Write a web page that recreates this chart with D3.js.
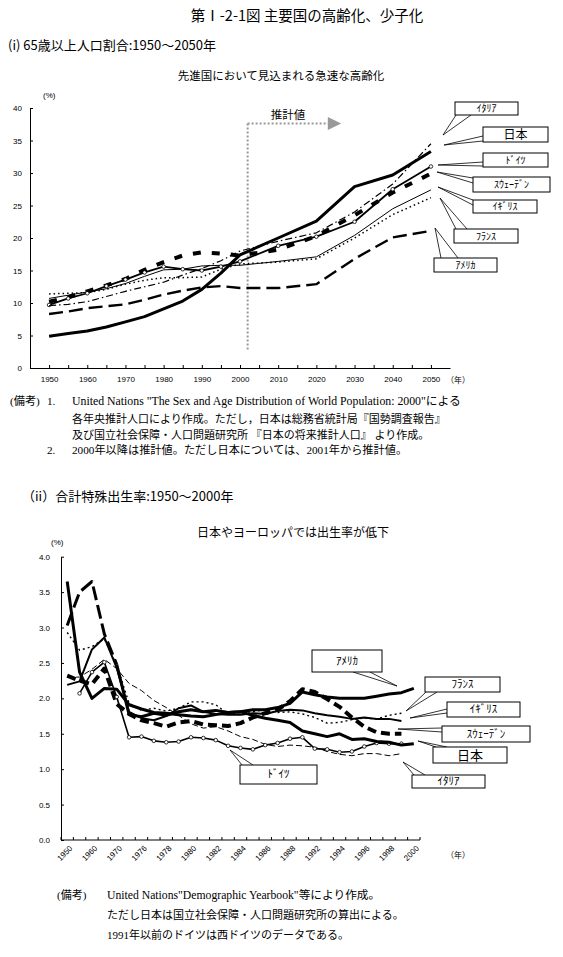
<!DOCTYPE html>
<html>
<head>
<meta charset="utf-8">
<script src="https://cdn.jsdelivr.net/npm/d3@7"></script>
<style>body{margin:0;background:#fff}</style>
</head>
<body>
<script>
/* ** DATA (i) 65歳以上人口割合 ** */
const agedYears  = [1950,1955,1960,1965,1970,1975,1980,1985,1990,1995,2000,2010,2020,2030,2040,2050];
const agedJapan  = [4.9,5.3,5.7,6.3,7.1,7.9,9.1,10.3,12.1,14.6,17.4,20.0,22.6,27.9,29.7,33.3];
const agedItaly  = [9.6,9.8,10.2,11.0,11.8,12.5,13.2,14.3,15.3,16.5,18.0,19.5,20.8,24.0,28.3,34.5];
const agedGermany= [9.7,10.7,11.5,12.6,13.6,14.7,15.6,15.2,15.0,15.6,16.4,18.8,20.2,22.5,27.5,31.0];
const agedSweden = [10.2,10.9,11.8,12.7,13.7,15.1,16.3,17.3,17.8,17.6,17.3,18.2,20.3,23.5,27.0,29.9];
const agedUK     = [10.7,11.2,11.7,12.2,13.0,14.1,15.1,15.2,15.7,15.8,15.8,16.4,17.1,20.4,24.5,27.4];
const agedFrance = [11.4,11.5,11.6,12.1,12.9,13.5,13.9,13.9,14.0,15.2,16.0,16.3,16.8,20.0,23.6,26.2];
const agedUSA    = [8.3,8.7,9.2,9.5,9.8,10.5,11.3,11.9,12.4,12.6,12.3,12.3,12.9,16.8,20.1,21.1];
const agedTicksX = [1950,1960,1970,1980,1990,2000,2010,2020,2030,2040,2050];
const agedTicksY = [0,5,10,15,20,25,30,35,40];

/* ** DATA (ii) 合計特殊出生率 ** */
const tfrYears   = [1950,1955,1960,1965,1970,1975,1976,1977,1978,1979,1980,1981,1982,1983,1984,1985,1986,1987,1988,1990,1992,1993,1994,1995,1996,1997,1998,1999,2000];
const tfrJapan   = [3.65,2.37,2.00,2.14,2.13,1.91,1.85,1.80,1.79,1.77,1.75,1.74,1.77,1.80,1.81,1.76,1.72,1.69,1.66,1.54,1.50,1.46,1.50,1.42,1.43,1.39,1.38,1.34,1.36];
const tfrUSA     = [3.03,3.50,3.65,2.91,2.48,1.77,1.74,1.79,1.76,1.81,1.84,1.81,1.83,1.80,1.81,1.84,1.84,1.87,1.93,2.09,2.05,2.02,2.00,2.00,2.00,2.03,2.06,2.08,2.14];
const tfrUK      = [2.19,2.24,2.69,2.86,2.43,1.81,1.72,1.69,1.75,1.86,1.90,1.81,1.78,1.77,1.77,1.79,1.78,1.82,1.84,1.83,1.79,1.76,1.74,1.71,1.73,1.71,1.71,1.68];
const tfrFrance  = [2.93,2.68,2.73,2.84,2.47,1.93,1.83,1.86,1.82,1.86,1.95,1.95,1.91,1.78,1.80,1.81,1.84,1.80,1.81,1.78,1.73,1.65,1.66,1.70,1.72,1.71,1.76,1.79];
const tfrGermany = [null,2.07,2.37,2.51,2.02,1.45,1.46,1.40,1.38,1.39,1.45,1.44,1.41,1.33,1.30,1.28,1.34,1.37,1.43,1.45,1.29,1.28,1.24,1.25,1.32,1.37,1.36,1.36];
const tfrItaly   = [2.30,2.30,2.41,2.55,2.42,2.21,2.11,1.97,1.87,1.76,1.64,1.58,1.60,1.54,1.46,1.42,1.35,1.32,1.34,1.33,1.31,1.25,1.21,1.19,1.22,1.22,1.19,1.22];
const tfrSweden  = [2.32,2.25,2.20,2.42,1.92,1.78,1.69,1.65,1.60,1.66,1.68,1.63,1.62,1.61,1.65,1.73,1.79,1.84,1.96,2.13,2.09,1.99,1.88,1.73,1.60,1.52,1.50,1.50];
const tfrTickLabels = [1950,1960,1970,1976,1978,1980,1982,1984,1986,1988,1992,1994,1996,1998,2000];
const tfrTicksY  = [0,0.5,1,1.5,2,2.5,3,3.5,4];

const jp = "'Noto Sans CJK JP', sans-serif";
const num = "'Liberation Sans', Arial, sans-serif";
const serif = "'Liberation Serif', 'Noto Sans CJK JP', serif";

const svg = d3.select("body").append("svg").attr("width", 563).attr("height", 957);

/* ** HEADINGS ** */
svg.append("text").text("第Ⅰ-2-1図 主要国の高齢化、少子化").attr("x", 307).attr("y", 21)
  .attr("text-anchor", "middle").attr("font-family", jp).attr("font-size", 14.5);
svg.append("text").text("(i) 65歳以上人口割合:1950～2050年").attr("x", 8).attr("y", 50)
  .attr("font-family", jp).attr("font-size", 13);
svg.append("text").text("先進国において見込まれる急速な高齢化").attr("x", 281).attr("y", 80)
  .attr("text-anchor", "middle").attr("font-family", jp).attr("font-size", 11.5);

/* ** CHART (i) ** */
const xA = d3.scaleLinear().domain([1945, 2055]).range([30, 450]);
const yA = d3.scaleLinear().domain([0, 40]).range([368, 108]);

const axA = svg.append("g").attr("transform", "translate(0,368)")
  .call(d3.axisBottom(xA).tickValues(d3.range(1950, 2051, 5)).tickSize(-3).tickSizeOuter(0).tickPadding(8)
    .tickFormat(d => agedTicksX.includes(d) ? d : ""));
const ayA = svg.append("g").attr("transform", "translate(30,0)")
  .call(d3.axisLeft(yA).tickValues(agedTicksY).tickSize(-3).tickSizeOuter(0).tickPadding(8));
[axA, ayA].forEach(g => {
  g.selectAll("text").attr("font-family", num).attr("font-size", 8).attr("fill", "#000");
  g.selectAll("line,path").attr("stroke", "#000");
});
svg.append("text").text("(%)").attr("x", 43).attr("y", 98).attr("font-family", num).attr("font-size", 8);
svg.append("text").text("（年）").attr("x", 446).attr("y", 383).attr("font-family", jp).attr("font-size", 8);

// 推計値 marker
const est = svg.append("g").attr("stroke", "#999").attr("stroke-width", 2).attr("stroke-dasharray", "2,2").attr("fill", "none");
est.append("line").attr("x1", xA(2002)).attr("x2", xA(2002)).attr("y1", yA(37.6)).attr("y2", yA(2.6));
est.append("line").attr("x1", xA(2002)).attr("x2", xA(2023)).attr("y1", yA(37.6)).attr("y2", yA(37.6));
svg.append("path").attr("fill", "#999")
  .attr("d", `M${xA(2023)},${yA(37.6) - 6.5}L${xA(2026.5)},${yA(37.6)}L${xA(2023)},${yA(37.6) + 6.5}Z`);
svg.append("text").text("推計値").attr("x", 288).attr("y", 119).attr("text-anchor", "middle")
  .attr("font-family", jp).attr("font-size", 11.5);

const seriesA = [
  {v: agedUSA, w: 2.4, dash: "14,6"},
  {v: agedFrance, w: 1.5, dash: "1.5,3"},
  {v: agedUK, w: 1, dash: null},
  {v: agedSweden, w: 4, dash: "8,11"},
  {v: agedGermany, w: 1.8, dash: null, marker: true},
  {v: agedItaly, w: 1.2, dash: "7,3,1.5,3"},
  {v: agedJapan, w: 3, dash: null}
];
const lineA = d3.line().x(d => xA(d[0])).y(d => yA(d[1]));
seriesA.forEach(s => {
  const pts = agedYears.map((y, i) => [y, s.v[i]]);
  svg.append("path").attr("d", lineA(pts)).attr("fill", "none").attr("stroke", "#000")
    .attr("stroke-width", s.w).attr("stroke-dasharray", s.dash).attr("stroke-linejoin", "round");
  if (s.marker) {
    svg.selectAll(null).data(pts).enter().append("circle")
      .attr("cx", d => xA(d[0])).attr("cy", d => yA(d[1])).attr("r", 1.8)
      .attr("fill", "#fff").attr("stroke", "#000").attr("stroke-width", 0.8);
  }
});

/* ** CALLOUTS ** */
function callout(c, size) {
  svg.append("path").attr("fill", "#fff").attr("stroke", "#000").attr("stroke-width", 0.8)
    .attr("d", `M${c.base[0]}L${c.tip}L${c.base[1]}`);
  svg.append("rect").attr("x", c.box[0]).attr("y", c.box[1]).attr("width", c.box[2]).attr("height", c.box[3])
    .attr("fill", "#fff").attr("stroke", "#000").attr("stroke-width", 1);
  svg.append("text").text(c.text).attr("x", c.box[0] + c.box[2] / 2).attr("y", c.box[1] + c.box[3] / 2)
    .attr("dy", "0.36em").attr("text-anchor", "middle").attr("font-family", jp)
    .attr("font-size", c.text === "日本" ? size + 2 : size);
}
[
  {text: "ｲﾀﾘｱ", box: [455, 102, 63, 13], base: [[456, 115], [471, 115]], tip: [443, 135]},
  {text: "日本", box: [483, 127, 65, 15], base: [[483, 136], [483, 141]], tip: [444, 145]},
  {text: "ﾄﾞｲﾂ", box: [483, 153, 65, 14], base: [[483, 162], [483, 166]], tip: [438, 165]},
  {text: "ｽｳｪｰﾃﾞﾝ", box: [473, 177, 77, 15], base: [[473, 178], [473, 183]], tip: [437, 172]},
  {text: "ｲｷﾞﾘｽ", box: [473, 200, 64, 13], base: [[473, 200], [473, 205]], tip: [438, 187]},
  {text: "ﾌﾗﾝｽ", box: [454, 229, 64, 14], base: [[456, 229], [467, 229]], tip: [440, 198]},
  {text: "ｱﾒﾘｶ", box: [434, 258, 63, 14], base: [[441, 258], [458, 258]], tip: [435, 228]}
].forEach(c => callout(c, 10));

/* ** NOTES (i) ** */
const notesA = [
  {x: 10, y: 405, t: "(備考)", s: 11.2}, {x: 47, y: 405, t: "1.", s: 11.2},
  {x: 72, y: 405, t: "United Nations \"The Sex and Age Distribution of World Population: 2000\"による", s: 11.8},
  {x: 72, y: 423, t: "各年央推計人口により作成。ただし，日本は総務省統計局『国勢調査報告』", s: 11},
  {x: 72, y: 439, t: "及び国立社会保障・人口問題研究所 『日本の将来推計人口』 より作成。", s: 11},
  {x: 47, y: 454, t: "2.", s: 11.2},
  {x: 72, y: 454, t: "2000年以降は推計値。ただし日本については、2001年から推計値。", s: 11.2}
];
svg.selectAll(null).data(notesA).enter().append("text").text(d => d.t)
  .attr("x", d => d.x).attr("y", d => d.y).attr("font-family", serif).attr("font-size", d => d.s);

/* ** HEADINGS (ii) ** */
svg.append("text").text("（ii）合計特殊出生率:1950～2000年").attr("x", 22).attr("y", 501)
  .attr("font-family", jp).attr("font-size", 13);
svg.append("text").text("日本やヨーロッパでは出生率が低下").attr("x", 293).attr("y", 537)
  .attr("text-anchor", "middle").attr("font-family", jp).attr("font-size", 12);

/* ** CHART (ii) ** */
const xB = d3.scaleBand().domain(tfrYears.map(String)).range([61, 420]);
const yB = d3.scaleLinear().domain([0, 4]).range([840, 556.7]);
const cx = y => xB(String(y)) + xB.bandwidth() / 2;

svg.append("line").attr("x1", 61).attr("x2", 420).attr("y1", 840).attr("y2", 840).attr("stroke", "#000");
svg.selectAll(null).data(d3.range(tfrYears.length + 1)).enter().append("line")
  .attr("x1", i => 61 + i * xB.step()).attr("x2", i => 61 + i * xB.step())
  .attr("y1", 840).attr("y2", 837).attr("stroke", "#000");
svg.selectAll(null).data(tfrTickLabels).enter().append("text").text(d => d)
  .attr("transform", d => `translate(${cx(d) + 3},846) rotate(-45)`)
  .attr("text-anchor", "end").attr("dy", "0.5em").attr("font-family", num).attr("font-size", 8);
const ayB = svg.append("g").attr("transform", "translate(61,0)")
  .call(d3.axisLeft(yB).tickValues(tfrTicksY).tickSize(-3).tickSizeOuter(0).tickPadding(11).tickFormat(d3.format(".1f")));
ayB.selectAll("text").attr("font-family", num).attr("font-size", 8).attr("fill", "#000");
ayB.selectAll("line,path").attr("stroke", "#000");
svg.append("text").text("(%)").attr("x", 51).attr("y", 545).attr("font-family", num).attr("font-size", 8);
svg.append("text").text("（年）").attr("x", 446).attr("y", 858).attr("font-family", jp).attr("font-size", 8);

const lineB = d3.line().defined(d => d[1] != null).x(d => cx(d[0])).y(d => yB(d[1]));
const seriesB = [
  {v: tfrItaly, w: 1, dash: "6,3"},
  {v: tfrFrance, w: 1.4, dash: "2,3"},
  {v: tfrSweden, w: 4, dash: "9,5"},
  {v: tfrUK, w: 2, dash: null},
  {v: tfrUSA, w: 3, dash: "14,5", to: 5},
  {v: tfrUSA, w: 3, dash: null, from: 4},
  {v: tfrGermany, w: 1.6, dash: null, marker: true},
  {v: tfrJapan, w: 3, dash: null}
];
seriesB.forEach(s => {
  let pts = s.v.map((v, i) => [tfrYears[i], v]);
  pts = pts.slice(s.from || 0, s.to || pts.length);
  svg.append("path").attr("d", lineB(pts)).attr("fill", "none").attr("stroke", "#000")
    .attr("stroke-width", s.w).attr("stroke-dasharray", s.dash).attr("stroke-linejoin", "round");
  if (s.marker) {
    svg.selectAll(null).data(pts.filter(d => d[1] != null)).enter().append("circle")
      .attr("cx", d => cx(d[0])).attr("cy", d => yB(d[1])).attr("r", 1.8)
      .attr("fill", "#fff").attr("stroke", "#000").attr("stroke-width", 0.8);
  }
});

[
  {text: "ｱﾒﾘｶ", box: [312, 650, 70, 22], base: [[353, 672], [370, 672]], tip: [397, 686]},
  {text: "ﾌﾗﾝｽ", box: [425, 677, 75, 15], base: [[426, 692], [437, 692]], tip: [406, 711]},
  {text: "ｲｷﾞﾘｽ", box: [447, 702, 73, 15], base: [[447, 709], [447, 713]], tip: [410, 718]},
  {text: "ｽｳｪｰﾃﾞﾝ", box: [442, 726, 88, 16], base: [[442, 728], [442, 732]], tip: [398, 729]},
  {text: "日本", box: [433, 747, 74, 16], base: [[436, 747], [447, 747]], tip: [418, 741]},
  {text: "ｲﾀﾘｱ", box: [412, 775, 73, 13], base: [[414, 775], [425, 775]], tip: [403, 762]},
  {text: "ﾄﾞｲﾂ", box: [240, 765, 77, 19], base: [[242, 765], [253, 765]], tip: [230, 750]}
].forEach(c => callout(c, 11));

/* ** NOTES (ii) ** */
const notesB = [
  {x: 57, y: 899, t: "(備考)", s: 11},
  {x: 107, y: 899, t: "United Nations\"Demographic Yearbook\"等により作成。", s: 11.7},
  {x: 107, y: 919, t: "ただし日本は国立社会保障・人口問題研究所の算出による。", s: 11},
  {x: 107, y: 939, t: "1991年以前のドイツは西ドイツのデータである。", s: 11}
];
svg.selectAll(null).data(notesB).enter().append("text").text(d => d.t)
  .attr("x", d => d.x).attr("y", d => d.y).attr("font-family", serif).attr("font-size", d => d.s);
</script>
</body>
</html>
